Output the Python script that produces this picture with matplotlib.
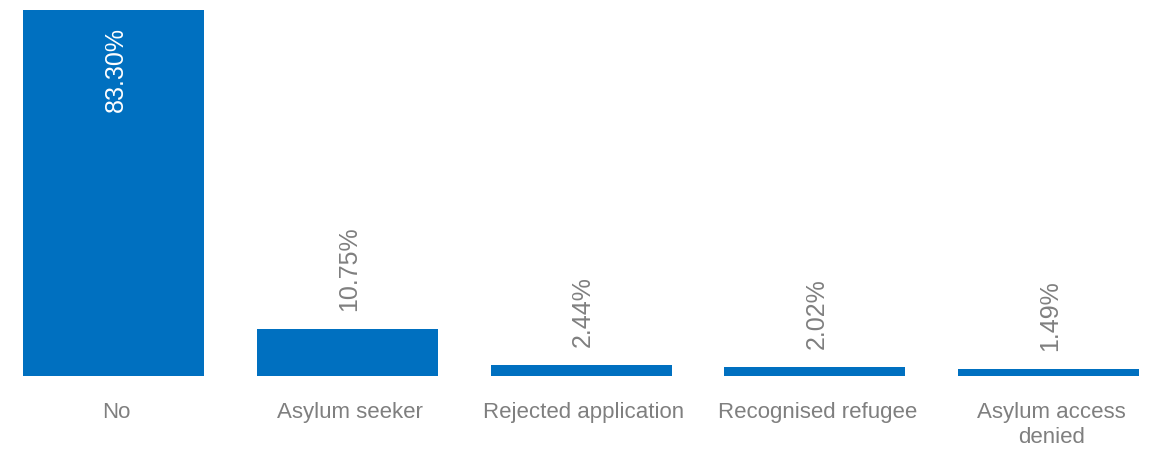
import matplotlib
matplotlib.use('Agg')
import matplotlib.pyplot as plt
from matplotlib.transforms import ScaledTranslation

categories = ['No', 'Asylum seeker', 'Rejected application', 'Recognised refugee', 'Asylum access\ndenied']
values = [83.30, 10.75, 2.44, 2.02, 1.49]
value_labels = ['83.30%', '10.75%', '2.44%', '2.02%', '1.49%']

plt.rcParams['font.family'] = ['Liberation Sans', 'DejaVu Sans']
bar_color = '#0070C0'
text_color = '#7F7F7F'

fig = plt.figure(figsize=(11.51, 4.51), dpi=100)
ax = fig.add_axes([0, 1 - 376 / 451, 1, 366 / 451])

x = list(range(len(values)))
ax.bar(x, values, width=181 / 233.75, color=bar_color)
ax.set_xlim(-113.5 / 233.75, (1151 - 113.5) / 233.75)
ax.set_ylim(0, values[0])

for i, (v, lab) in enumerate(zip(values, value_labels)):
	if i == 0:
		ax.annotate(lab, (i, v), xytext=(2, -17), textcoords='offset pixels',
			rotation=90, ha='center', va='top', color='white', fontsize=18)
	else:
		ax.annotate(lab, (i, v), xytext=(2, 18), textcoords='offset pixels',
			rotation=90, ha='center', va='bottom', color=text_color, fontsize=18)

ax.set_xticks(x)
ax.set_xticklabels(categories, color=text_color, fontsize=16, linespacing=1.2)
ax.tick_params(axis='x', length=0, pad=19)
shift = ScaledTranslation(3 / 100, 0, fig.dpi_scale_trans)
for t in ax.get_xticklabels():
	t.set_transform(t.get_transform() + shift)
ax.set_yticks([])
for s in ax.spines.values():
	s.set_visible(False)

fig.savefig('out.png', dpi=100)
